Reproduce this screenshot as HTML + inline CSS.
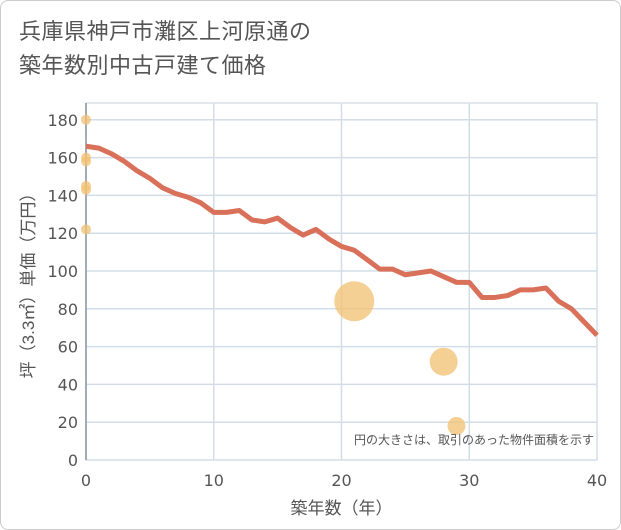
<!DOCTYPE html>
<html><head><meta charset="utf-8"><style>
body{margin:0;background:#fff;font-family:"Liberation Sans","Noto Sans CJK JP",sans-serif;}
#card{position:absolute;left:0;top:0;width:619px;height:528px;border:1px solid #ccc;border-radius:8px;background:#fff;}
#title{position:absolute;left:18px;top:14px;font-size:22px;line-height:34px;color:#555;letter-spacing:0.5px;}
</style></head><body>
<div id="card">
<div id="title">兵庫県神戸市灘区上河原通の<br>築年数別中古戸建て価格</div>
<svg id="chart" width="621" height="530" style="position:absolute;left:-1px;top:-1px"></svg>
</div>
<script>
const years=[0,1,2,3,4,5,6,7,8,9,10,11,12,13,14,15,16,17,18,19,20,21,22,23,24,25,26,27,28,29,30,31,32,33,34,35,36,37,38,39,40];
const prices=[166,165,162,158,153,149,144,141,139,136,131,131,132,127,126,128,123,119,122,117,113,111,106,101,101,98,99,100,97,94,94,86,86,87,90,90,91,84,80,73,66];
const bubX=[0,0,0,0,0,0,21,28,29];
const bubY=[180,160,158,145,143,122,84,52,18];
const bubR=[5,5,5,5,5,5,20,14,9];
const xTicks=[0,10,20,30,40];
const yTicks=[0,20,40,60,80,100,120,140,160,180];
const L=86,R=597,T=103,B=460;
const sx=v=>L+(v/40)*(R-L);
const sy=v=>B-v*1.89;
const svg=document.getElementById('chart');
const NS='http://www.w3.org/2000/svg';
const TF='"DejaVu Sans","Liberation Sans",sans-serif';
function mk(t,a){const e=document.createElementNS(NS,t);for(const k in a)e.setAttribute(k,a[k]);svg.appendChild(e);return e;}
const frame=mk('rect',{x:L,y:T,width:R-L,height:B-T,fill:'none',stroke:'#c8d2de'});


yTicks.forEach(v=>{
 const g=mk('line',{x1:L,x2:R,y1:sy(v),y2:sy(v),stroke:'#d3dde8','stroke-width':1.5});
 
 
 const t=mk('text',{x:L-8,y:sy(v)+6,'text-anchor':'end','font-size':16,fill:'#555','font-family':TF});
 t.textContent=v;
 
 
});
xTicks.forEach(v=>{
 const g=mk('line',{x1:sx(v),x2:sx(v),y1:T,y2:B,stroke:'#d3dde8','stroke-width':1.5});
 
 
 const t=mk('text',{x:sx(v),y:B+26,'text-anchor':'middle','font-size':16,fill:'#555','font-family':TF});
 t.textContent=v;
 
 
});
const ax=mk('line',{x1:L,x2:L,y1:T,y2:B,stroke:'#8a96a3','stroke-width':1.5});


const line=mk('polyline',{points:years.map((y,i)=>sx(y)+','+sy(prices[i])).join(' '),fill:'none',stroke:'#d9705a','stroke-width':5,'stroke-linejoin':'round'});


bubX.forEach((x,i)=>{
 const c=mk('circle',{cx:sx(x),cy:sy(bubY[i]),r:bubR[i],fill:'#f2c070','fill-opacity':0.75});
 
 
});
const note=mk('text',{x:R-3,y:B-16,'text-anchor':'end','font-size':12,fill:'#555'});
note.textContent='円の大きさは、取引のあった物件面積を示す';


const xt=mk('text',{x:(L+R)/2,y:514,'text-anchor':'middle','font-size':17,fill:'#555'});
xt.textContent='築年数（年）';


const yt=mk('text',{x:0,y:0,'text-anchor':'middle','font-size':17,fill:'#555',transform:'translate(34,'+((T+B)/2)+') rotate(-90)'});
yt.textContent='坪（3.3㎡）単価（万円）';


</script>
</body></html>
